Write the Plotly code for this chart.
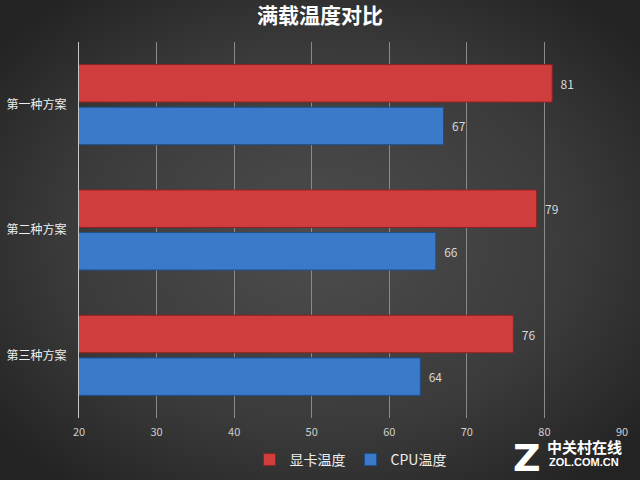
import base64
import plotly.graph_objects as go

categories = ["第一种方案", "第二种方案", "第三种方案"]
gpu_temp = [81, 79, 76]
cpu_temp = [67, 66, 64]
series_names = ["显卡温度", "CPU温度"]
x_ticks = [20, 30, 40, 50, 60, 70, 80, 90]

FONT = "Noto Sans CJK SC"

svg = (
    '<svg xmlns="http://www.w3.org/2000/svg" width="640" height="480">'
    '<defs><radialGradient id="g" cx="50%" cy="50%" r="65%">'
    '<stop offset="0%" stop-color="#4d4d4d"/>'
    '<stop offset="60%" stop-color="#3b3b3b"/>'
    '<stop offset="100%" stop-color="#232323"/>'
    '</radialGradient></defs>'
    '<rect width="640" height="480" fill="url(#g)"/></svg>'
)
bg_src = "data:image/svg+xml;base64," + base64.b64encode(svg.encode()).decode()

PW, PH, L, T = 543, 376, 79, 42

def px(x):
    return (x - L) / PW

def py(y):
    return 1 - (y - T) / PH

fig = go.Figure()
fig.add_trace(go.Bar(
    y=categories, x=gpu_temp, name=series_names[0], orientation="h",
    marker=dict(color="#d03d3d", line=dict(color="#8e2222", width=1)),
    texttemplate="\u00a0\u00a0%{x}", textposition="outside",
    textfont=dict(color="#d8d8d8", size=12, family=FONT),
    cliponaxis=False,
))
fig.add_trace(go.Bar(
    y=categories, x=cpu_temp, name=series_names[1], orientation="h",
    marker=dict(color="#3a7ac8", line=dict(color="#1f4f8a", width=1)),
    texttemplate="\u00a0\u00a0%{x}", textposition="outside",
    textfont=dict(color="#d8d8d8", size=12, family=FONT),
    cliponaxis=False,
))

fig.update_layout(
    width=640, height=480,
    margin=dict(l=L, r=640 - L - PW, t=T, b=480 - T - PH, autoexpand=False),
    paper_bgcolor="#333333",
    plot_bgcolor="rgba(0,0,0,0)",
    barmode="group",
    bargap=0.32,
    bargroupgap=0.12,
    title=dict(text="<b>满载温度对比</b>", x=0.5, xanchor="center", y=0.968, yanchor="middle",
               font=dict(family=FONT, size=21, color="#ffffff")),
    font=dict(family=FONT, color="#e0e0e0"),
    xaxis=dict(range=[20, 90], tickvals=x_ticks, showgrid=True, gridcolor="#8a8a8a", gridwidth=1,
               zeroline=False, showline=False, ticks="", ticklabelstandoff=6,
               tickfont=dict(size=11, color="#cfcfcf"), fixedrange=True),
    yaxis=dict(autorange="reversed", showline=True, linecolor="#c8c8c8", linewidth=1,
               ticks="", ticklabelstandoff=9, tickfont=dict(size=12, color="#eeeeee"), showgrid=False),
    legend=dict(orientation="h", x=0.5, xanchor="center", y=py(460), yanchor="middle",
                font=dict(size=14, color="#eeeeee"), itemwidth=30, traceorder="normal",
                bgcolor="rgba(0,0,0,0)"),
    images=[dict(source=bg_src, xref="paper", yref="paper", x=px(0), y=py(0),
                 sizex=640 / PW, sizey=480 / PH, sizing="stretch", layer="below",
                 xanchor="left", yanchor="top")],
    annotations=[
        dict(text="<b>Z</b>", xref="paper", yref="paper", x=px(527), y=py(458),
             showarrow=False, font=dict(family="DejaVu Sans", size=38, color="#ffffff"),
             xanchor="center", yanchor="middle"),
        dict(text="<b>中关村在线</b>", xref="paper", yref="paper", x=px(584), y=py(446),
             showarrow=False, font=dict(family=FONT, size=15, color="#ffffff"),
             xanchor="center", yanchor="middle"),
        dict(text="<b>ZOL.COM.CN</b>", xref="paper", yref="paper", x=px(584), y=py(462),
             showarrow=False, font=dict(family="Liberation Sans", size=11, color="#ffffff"),
             xanchor="center", yanchor="middle"),
    ],
)

fig.write_html("out.html", config={"displayModeBar": False},
               post_script="document.body.style.margin='0';")
